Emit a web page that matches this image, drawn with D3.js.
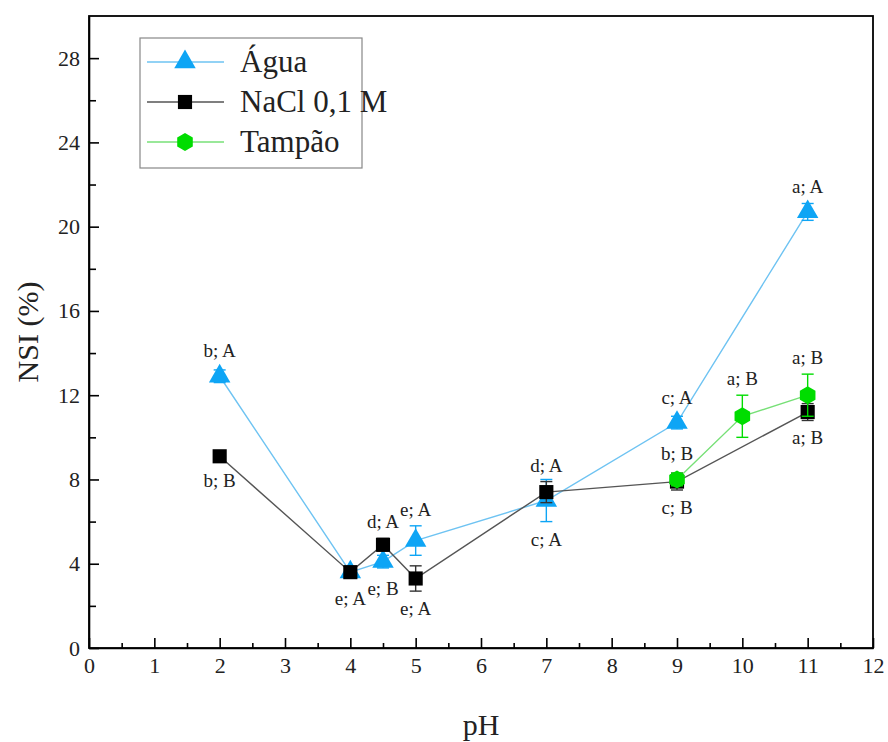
<!DOCTYPE html>
<html>
<head>
<meta charset="utf-8">
<script src="https://cdn.jsdelivr.net/npm/d3@7"></script>
<style>
  body { margin: 0; background: #fff; }
</style>
</head>
<body>
<div id="chart"></div>
<script>
// --- data ---
var aguaPH = [2, 4, 4.5, 5, 7, 9, 11];
var aguaNSI = [12.9, 3.6, 4.1, 5.1, 7.0, 10.7, 20.7];
var aguaErr = [0.3, 0.2, 0.3, 0.7, 1.0, 0.3, 0.4];
var aguaLab = ["b; A", "e; A", "e; B", "e; A", "c; A", "c; A", "a; A"];
var aguaPos = ["up", "down", "down", "up", "down", "up", "up"];

var naclPH = [2, 4, 4.5, 5, 7, 9, 11];
var naclNSI = [9.1, 3.6, 4.9, 3.3, 7.4, 7.9, 11.2];
var naclErr = [0.2, 0.2, 0.3, 0.6, 0.5, 0.4, 0.4];
var naclLab = ["b; B", "", "d; A", "e; A", "d; A", "c; B", "a; B"];
var naclPos = ["down", "down", "up", "down", "up", "down", "down"];

var tampPH = [9, 10, 11];
var tampNSI = [8.0, 11.0, 12.0];
var tampErr = [0.3, 1.0, 1.0];
var tampLab = ["b; B", "a; B", "a; B"];
var tampPos = ["up", "up", "up"];

var seriesNames = ["Água", "NaCl 0,1 M", "Tampão"];
var xTicks = [0, 1, 2, 3, 4, 5, 6, 7, 8, 9, 10, 11, 12];
var yTicks = [0, 4, 8, 12, 16, 20, 24, 28];

var serif = "'Liberation Serif', 'Times New Roman', serif";
var W = 888, H = 742;
var margin = { top: 16, right: 15, bottom: 94, left: 89 };
var width = W - margin.left - margin.right;
var height = H - margin.top - margin.bottom;

var svg = d3.select("#chart").append("svg")
  .attr("width", W).attr("height", H)
  .attr("font-family", serif);
var g = svg.append("g")
  .attr("transform", "translate(" + margin.left + "," + margin.top + ")");

var x = d3.scaleLinear().domain([0, 12]).range([0, width]);
var y = d3.scaleLinear().domain([0, 30]).range([height, 0]);

function styleAxis(sel) {
  sel.attr("font-family", serif).attr("font-size", 22);
  sel.selectAll("line, path").attr("stroke", "#000").attr("stroke-width", 1.6);
  sel.selectAll("text").attr("fill", "#222");
}

// minor ticks
g.append("g")
  .attr("transform", "translate(0," + height + ")")
  .call(d3.axisBottom(x).tickValues(d3.range(0.5, 12, 1)).tickSize(-5).tickFormat(""))
  .call(styleAxis)
  .select(".domain").remove();
g.append("g")
  .call(d3.axisLeft(y).tickValues(d3.range(2, 30, 4)).tickSize(-7).tickFormat(""))
  .call(styleAxis)
  .select(".domain").remove();

g.append("g")
  .attr("transform", "translate(0," + height + ")")
  .call(d3.axisBottom(x).tickValues(xTicks).tickSize(-10).tickSizeOuter(0).tickPadding(9))
  .call(styleAxis);
g.append("g")
  .call(d3.axisLeft(y).tickValues(yTicks).tickSize(-10).tickSizeOuter(0).tickPadding(9))
  .call(styleAxis);

// frame
g.append("rect").attr("width", width).attr("height", height)
  .attr("fill", "none").attr("stroke", "#000").attr("stroke-width", 1.8);

// axis titles
svg.append("text").attr("x", margin.left + width / 2).attr("y", 735)
  .attr("text-anchor", "middle").attr("font-size", 30).attr("fill", "#222").text("pH");
svg.append("text").attr("transform", "translate(38," + (margin.top + height / 2) + ") rotate(-90)")
  .attr("text-anchor", "middle").attr("font-size", 30).attr("fill", "#222").text("NSI (%)");

var series = [
  { ph: aguaPH, v: aguaNSI, e: aguaErr, lab: aguaLab, pos: aguaPos, line: "#6ec3f2", fill: "#0ea5f5", sym: d3.symbolTriangle, size: 200, half: 9 },
  { ph: naclPH, v: naclNSI, e: naclErr, lab: naclLab, pos: naclPos, line: "#555", fill: "#000", sym: d3.symbolSquare, size: 200, half: 7 },
  { ph: tampPH, v: tampNSI, e: tampErr, lab: tampLab, pos: tampPos, line: "#77e077", fill: "#00dd00", sym: "hex", size: 9, half: 9 }
];

function hexPath(r) {
  var pts = d3.range(6).map(function(i) {
    var a = Math.PI / 6 + i * Math.PI / 3;
    return [r * Math.cos(a), r * Math.sin(a)];
  });
  return "M" + pts.join("L") + "Z";
}

var line = d3.line().x(function(d) { return x(d[0]); }).y(function(d) { return y(d[1]); });

series.forEach(function(s) {
  var pts = s.ph.map(function(p, i) { return [p, s.v[i], s.e[i], s.lab[i], s.pos[i]]; });
  var sg = g.append("g");
  sg.append("path").datum(pts).attr("d", line)
    .attr("fill", "none").attr("stroke", s.line).attr("stroke-width", 1.4);

  var eb = sg.selectAll(".eb").data(pts).enter().append("g")
    .attr("stroke", s.sym === d3.symbolSquare ? "#333" : s.fill).attr("stroke-width", 1.4);
  eb.append("line")
    .attr("x1", function(d) { return x(d[0]); }).attr("x2", function(d) { return x(d[0]); })
    .attr("y1", function(d) { return y(d[1] + d[2]); }).attr("y2", function(d) { return y(d[1] - d[2]); });
  eb.append("line")
    .attr("x1", function(d) { return x(d[0]) - 6; }).attr("x2", function(d) { return x(d[0]) + 6; })
    .attr("y1", function(d) { return y(d[1] + d[2]); }).attr("y2", function(d) { return y(d[1] + d[2]); });
  eb.append("line")
    .attr("x1", function(d) { return x(d[0]) - 6; }).attr("x2", function(d) { return x(d[0]) + 6; })
    .attr("y1", function(d) { return y(d[1] - d[2]); }).attr("y2", function(d) { return y(d[1] - d[2]); });

  sg.selectAll(".mk").data(pts).enter().append("path")
    .attr("transform", function(d) { return "translate(" + x(d[0]) + "," + y(d[1]) + ")"; })
    .attr("d", s.sym === "hex" ? hexPath(s.size) : d3.symbol().type(s.sym).size(s.size)())
    .attr("fill", s.fill);

  sg.selectAll(".lb").data(pts).enter().append("text")
    .attr("x", function(d) { return x(d[0]); })
    .attr("y", function(d) {
      if (d[4] === "up") return Math.min(y(d[1] + d[2]), y(d[1]) - s.half) - 10;
      return Math.max(y(d[1] - d[2]), y(d[1]) + s.half) + 24;
    })
    .attr("text-anchor", "middle").attr("font-size", 19).attr("fill", "#222")
    .text(function(d) { return d[3]; });
});

// legend
var lg = svg.append("g").attr("transform", "translate(140,38)");
lg.append("rect").attr("width", 222).attr("height", 130)
  .attr("fill", "#fff").attr("stroke", "#888").attr("stroke-width", 1.2);
series.forEach(function(s, i) {
  var ly = 24 + i * 40;
  lg.append("line").attr("x1", 7).attr("x2", 84).attr("y1", ly).attr("y2", ly)
    .attr("stroke", s.line).attr("stroke-width", 1.4);
  lg.append("path").attr("transform", "translate(45," + ly + ")")
    .attr("d", s.sym === "hex" ? hexPath(s.size) : d3.symbol().type(s.sym).size(s.size)())
    .attr("fill", s.fill);
  lg.append("text").attr("x", 100).attr("y", ly + 10).attr("font-size", 31).attr("fill", "#222")
    .text(seriesNames[i]);
});
</script>
</body>
</html>
